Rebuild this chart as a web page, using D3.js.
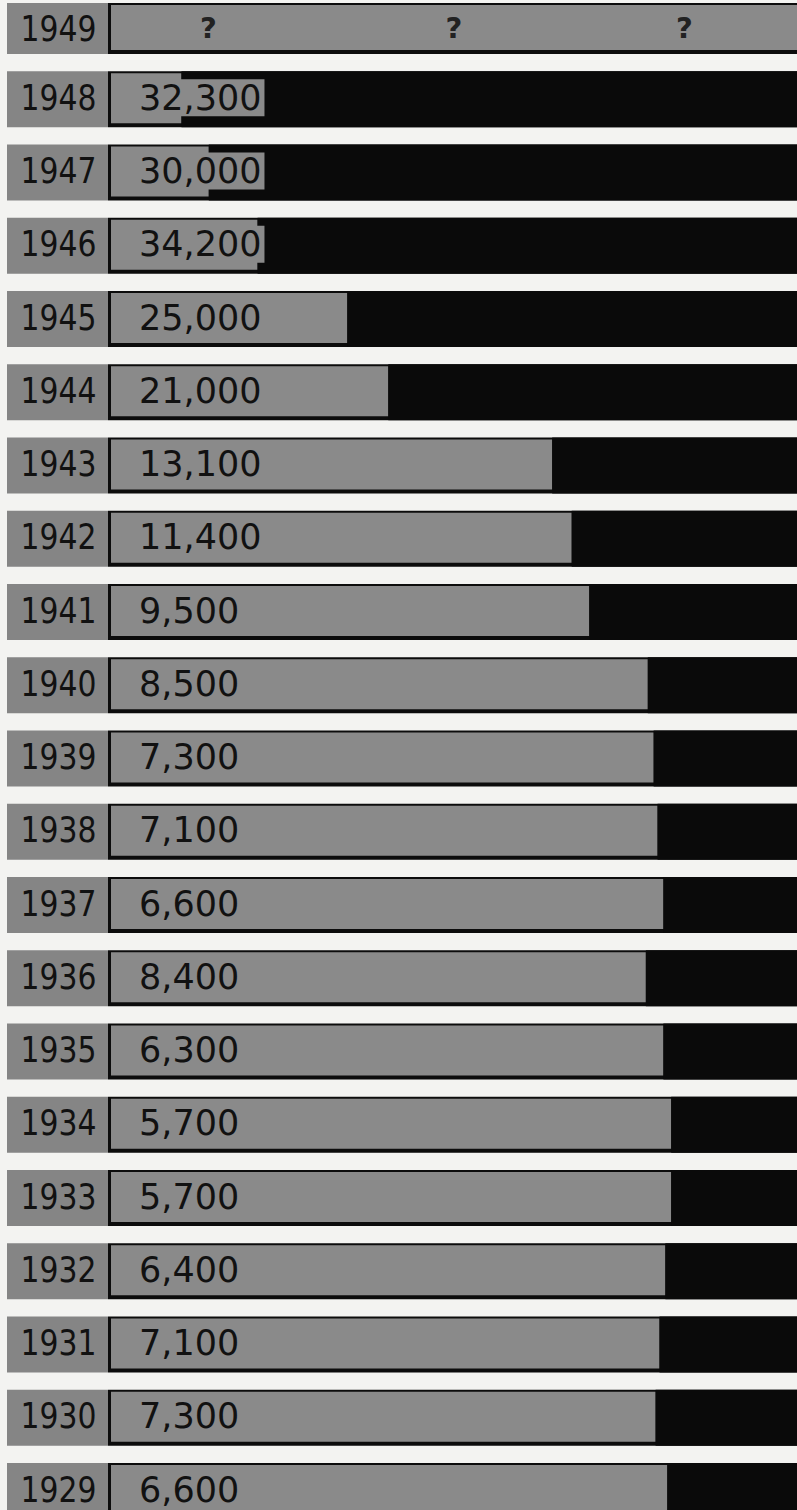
<!DOCTYPE html>
<html>
<head>
<meta charset="utf-8">
<script src="https://cdn.jsdelivr.net/npm/d3@7"></script>
<style>
  html, body { margin: 0; padding: 0; background: #f3f3f1; }
  svg { display: block; }
</style>
</head>
<body>
<svg id="chart" width="797" height="1510"></svg>
<script>
// ---- data ----
const years = [1949, 1948, 1947, 1946, 1945, 1944, 1943, 1942, 1941, 1940, 1939,
               1938, 1937, 1936, 1935, 1934, 1933, 1932, 1931, 1930, 1929];
// values printed on the bars
const values = [null, 32300, 30000, 34200, 25000, 21000, 13100, 11400, 9500, 8500, 7300,
                7100, 6600, 8400, 6300, 5700, 5700, 6400, 7100, 7300, 6600];
// lengths of the dark bars as drawn (same units)
const barLengths = [null, 31700, 30300, 27800, 23200, 21100, 12700, 11700, 10800, 7800, 7500,
                    7300, 7000, 7900, 7000, 6600, 6600, 6900, 7200, 7400, 6800];
const unknownMarks = ["?", "?", "?"];

const rows = years.map((y, i) => ({ year: y, value: values[i], len: barLengths[i] }));

// ---- layout ----
const W = 797;
const svg = d3.select("#chart");

const y = d3.scaleBand().domain(years).range([-2, 1519]).paddingInner(0.2355).paddingOuter(0);
// dark bars grow leftwards from the right edge
const x = d3.scaleLinear().domain([0, 41000]).range([800, 0]);

const labelX0 = 7, labelX1 = 108, barX0 = 108, borderL = 3, borderT = 2, borderB = 4;
const fmt = d3.format(",");
const FS = 35;

const top0 = d => Math.max(y(d.year), 3);
const bh = d => y(d.year) + y.bandwidth() - top0(d);
const baseY = d => (d.value == null ? bh(d) / 2 : 26) + 12.6;

const g = svg.selectAll("g.row").data(rows).join("g").attr("class", "row")
  .attr("transform", d => `translate(0,${top0(d)})`);

// year label box
g.append("rect").attr("x", labelX0).attr("y", 0).attr("width", labelX1 - labelX0)
  .attr("height", bh).attr("fill", "#858585");

g.append("text").attr("x", (labelX0 + labelX1) / 2 + 1)
  .attr("y", baseY)
  .attr("text-anchor", "middle")
  .attr("font-family", "DejaVu Sans, sans-serif").attr("font-size", 36)
  .attr("textLength", 76).attr("lengthAdjust", "spacingAndGlyphs")
  .attr("fill", "#111").text(d => d.year);

// bar frame (black outline)
g.append("rect").attr("x", barX0).attr("y", 0).attr("width", W - barX0 + 5)
  .attr("height", bh).attr("fill", "#0c0c0c");

// gray part of the bar
g.append("rect").attr("x", barX0 + borderL).attr("y", borderT)
  .attr("width", d => (d.len == null ? W + 5 : x(d.len)) - barX0 - borderL)
  .attr("height", d => bh(d) - borderT - borderB).attr("fill", "#8a8a8a");

// dark bar
g.filter(d => d.len != null).append("rect").attr("class", "bar")
  .attr("x", d => x(d.len)).attr("y", 0)
  .attr("width", d => x(0) - x(d.len)).attr("height", bh).attr("fill", "#0a0a0a");

// value labels with a gray patch behind where they run into the dark bar
g.filter(d => d.value != null).each(function(d) {
  const sel = d3.select(this);
  const t = sel.append("text").attr("x", 139).attr("y", baseY(d))
    .attr("font-family", "DejaVu Sans, sans-serif").attr("font-size", FS)
    .attr("fill", "#111").text(fmt(d.value));
  const bb = t.node().getBBox();
  if (bb.x + bb.width + 3 > x(d.len)) {
    sel.insert("rect", "text:last-of-type")
      .attr("x", barX0 + borderL).attr("y", 8)
      .attr("width", bb.x + bb.width + 3 - barX0 - borderL)
      .attr("height", bh(d) - 19).attr("fill", "#8a8a8a");
  }
});

// question marks for the unknown year
const qFrac = [0.142, 0.5, 0.836];
const first = g.filter(d => d.value == null);
first.selectAll("text.q").data(d => unknownMarks.map(m => ({ m, row: d }))).join("text")
  .attr("class", "q")
  .attr("x", (d, i) => barX0 + borderL + qFrac[i] * (W - barX0 - borderL))
  .attr("y", d => bh(d.row) / 2 + 10)
  .attr("text-anchor", "middle")
  .attr("font-family", "DejaVu Sans, sans-serif").attr("font-size", 29).attr("font-weight", "bold")
  .attr("fill", "#222").text(d => d.m);
</script>
</body>
</html>
